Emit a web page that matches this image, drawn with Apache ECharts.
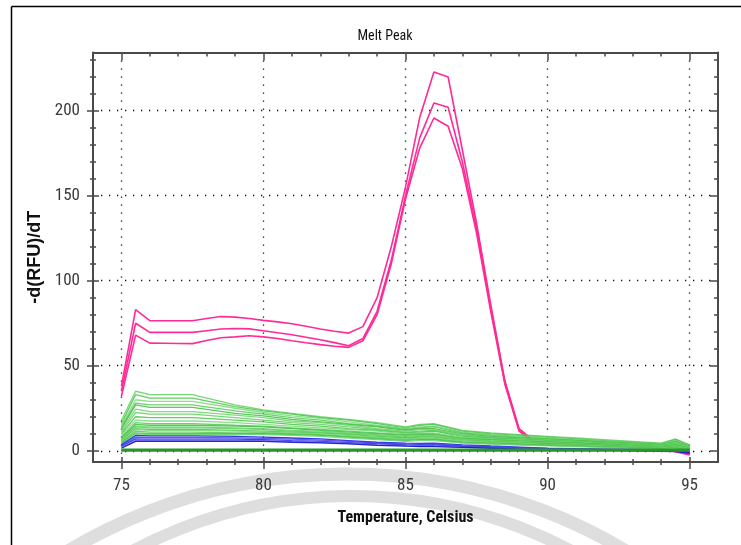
<!DOCTYPE html>
<html><head><meta charset="utf-8">
<script src="https://cdn.jsdelivr.net/npm/echarts@6/dist/echarts.min.js"></script>
<style>html,body{margin:0;padding:0;background:#fff}#c{width:741px;height:545px}</style>
</head><body><div id="c"></div>
<script>
// ---------- data ----------
const pinkTemps = [75,75.5,76,76.5,77,77.5,78,78.5,79,79.5,80,80.5,81,81.5,82,82.5,83,83.5,84,84.5,85,85.5,86,86.5,87,87.5,88,88.5,89,89.5,90,90.5,91,91.5,92,92.5,93,93.5,94,94.5,95];
const pink1 = [38,83,76.5,76.5,76.5,76.5,77.8,79,78.6,77.8,76.7,75.8,74.7,73.2,71.6,70.3,69.2,73,90,120,155,196,222.7,219.8,177,134,86,41,13,6,4.5,4.3,4.1,4,3.9,3.7,3.5,3,1.8,0,-2];
const pink2 = [35,75,69.6,69.6,69.6,69.6,70.6,71.6,71.9,71.7,70.6,69.4,68.2,66.8,65.3,63.6,61.8,66,82,112,150,184,204.5,202,170,131,84,40,12,5.5,4.2,4,3.9,3.8,3.6,3.5,3.3,2.8,1.4,-0.3,-2.2];
const pink3 = [32,68,63.3,63.2,63.1,63,64.8,66.5,67,67.6,67,66,64.7,63.5,62.4,61.5,60.8,64.7,80,110,148,178,195.7,190.8,166,128,82,39,11.5,5,3.9,3.7,3.6,3.5,3.4,3.2,3,2.6,1.1,-0.6,-2.5];

const greenTemps = [75,75.5,76,77.5,79,80,81,82,83,84,85,85.5,86,87,88,89,90,91,92,93,94,94.5,95];
const green1  = [18,35,33,33,27,24,22,20,18.5,16.5,14,15.5,16,12,10.5,9.5,8.5,7.5,6.5,5.5,4.5,7,3.5];
const green2  = [16,33,31,31,26,23.5,21.5,19.5,18,16,13.5,15,15.5,11.5,10,9,8,7,6,5,4.2,6.5,3.2];
const green3  = [15,30,29,29,25,22.5,20.5,19,17,15,13,14,14.5,11,9.5,8.5,7.5,6.5,5.5,4.8,4,6,3];
const green4  = [14,28,27,27,23.5,21.5,19.5,18,16,14.5,12.5,13.5,14,10.5,9,8,7,6.2,5.3,4.5,3.8,5.5,2.8];
const green5  = [13,27,25.5,25.5,22,20.5,18.5,17,15.5,14,12,13,13,10,8.5,7.5,6.8,6,5,4.3,3.6,5.2,2.6];
const green6  = [12,24.5,23,23,21,19.5,17.5,16.5,15,13,11.5,12.5,12.5,9.5,8,7.2,6.5,5.7,4.8,4,3.4,5,2.4];
const green7  = [11,22.5,21.5,21.5,19.5,18,16.5,15.5,14,12.5,11,11.5,12,9,7.8,7,6.2,5.5,4.6,3.8,3.2,4.6,2.2];
const green8  = [10,20,19.5,19.5,18,17,15.5,14.5,13,12,10.5,11,11.5,8.5,7.5,6.7,6,5.2,4.4,3.6,3,4.2,2];
const green9  = [9,18,17.5,17.5,16.5,15.5,14.5,13.5,12.5,11.5,10,10.5,10.5,8,7,6.4,5.7,5,4.2,3.4,2.8,4,1.8];
const green10 = [8,16.5,16,16,15,14.5,13.5,12.5,11.5,10.5,9.5,10,10,7.5,6.7,6,5.4,4.8,4,3.2,2.6,3.6,1.6];
const green11 = [7.5,15.5,15,15,14.5,14,13,12,11,10,9,9.5,9.5,7.2,6.4,5.7,5.1,4.5,3.8,3,2.4,3.4,1.4];
const green12 = [7,14.5,14,14,13.5,13,12,11.5,10.5,9.5,8.5,9,9,6.8,6,5.4,4.8,4.2,3.5,2.8,2.2,3,1.2];
const green13 = [6.5,14,13.5,13.5,13,12.5,11.5,11,10,9,8,8.5,8.5,6.5,5.7,5.1,4.5,3.9,3.2,2.6,2,2.8,1];
const green14 = [6,13,12.5,12.5,12,11.5,11,10.5,9.5,8.5,7.5,8,8,6,5.3,4.7,4.1,3.6,3,2.4,1.8,2.5,0.8];
const green15 = [5.5,12.5,12,12,11.5,11,10.5,10,9,8,7,7.5,7.5,5.6,5,4.4,3.8,3.3,2.7,2.2,1.6,2.2,0.5];
const green16 = [5,11.5,11,11,10.5,10.5,10,9.5,8.5,7.5,6.5,7,7,5.2,4.6,4,3.5,3,2.5,2,1.4,2,0.3];
const green17 = [4.5,10.5,10,10,10,10,9.5,9,8,7,6,6.5,6.5,4.8,4.2,3.7,3.2,2.7,2.2,1.8,1.2,1.7,0];
const green18 = [4,10,9.5,9.5,9.5,9.5,9,8.5,7.5,6.5,5.5,6,6,4.5,3.9,3.4,2.9,2.5,2,1.6,1,1.5,-0.3];

const blue1 = [3.5,9,8.8,8.8,8.5,8,7.5,7,6,5,4.5,4.3,4.5,3.5,2.8,2.2,1.5,1.2,1,0.8,0.4,0.2,-0.5];
const blue2 = [3,8,7.8,7.8,7.6,7.3,6.8,6.3,5.5,4.5,4,3.8,4,3,2.4,1.8,1.2,1,0.8,0.6,0.2,0,-0.8];
const blue3 = [2.5,7,6.8,6.8,6.8,6.6,6,5.5,4.8,4,3.5,3.3,3.4,2.6,2,1.5,1,0.8,0.6,0.4,0,-0.2,-1];
const blue4 = [2,6,6,6,6,6,5.5,5,4.3,3.5,3,2.8,2.8,2.2,1.7,1.2,0.8,0.6,0.4,0.2,-0.2,-0.4,-1.2];
const blue5 = [1.5,5.5,5.5,5.5,5.5,5.5,5,4.6,4,3.2,2.7,2.5,2.5,2,1.5,1,0.6,0.4,0.2,0,-0.3,-0.5,-1.3];

const baseTemps = [75,80,85,90,95];
const base1 = [0.6,0.6,0.6,0.6,0.6];
const base2 = [0.1,0.1,0.1,0.1,0.1];

const xMajorTicks = [75,80,85,90,95];
const xMinorTicks = [75,76,77,78,79,80,81,82,83,84,85,86,87,88,89,90,91,92,93,94,95];
const yMajorTicks = [0,50,100,150,200];
const yMinorTicks = [0,10,20,30,40,50,60,70,80,90,100,110,120,130,140,150,160,170,180,190,200,210,220,230];

const X_MIN = 74, X_MAX = 96, Y_MIN = -6.6, Y_MAX = 234.2;

// ---------- build ----------
const pair = (xs, ys) => xs.map((x, i) => [x, ys[i]]);
const greens = [green1,green2,green3,green4,green5,green6,green7,green8,green9,green10,green11,green12,green13,green14,green15,green16,green17,green18];
const greenColors = ['#5fd05f','#49c449','#7ad87a','#55c955','#3fbd3f','#6cd46c'];
const blues = [blue1,blue2,blue3,blue4,blue5];
const blueColors = ['#1f1fe8','#4a4af0','#2b2bd9','#6f6ff2','#1414c8'];
const pinks = [pink1,pink2,pink3];

const series = [];
pinks.forEach(p => series.push({type:'line', data:pair(pinkTemps, p), showSymbol:false, symbol:'none', silent:true,
  lineStyle:{color:'#ff2a96', width:1.6}, z:1}));
greens.forEach((g, i) => series.push({type:'line', data:pair(greenTemps, g), showSymbol:false, symbol:'none', silent:true,
  lineStyle:{color:greenColors[i % greenColors.length], width:1.3, opacity:0.85}, z:2}));
blues.forEach((b, i) => series.push({type:'line', data:pair(greenTemps, b), showSymbol:false, symbol:'none', silent:true,
  lineStyle:{color:blueColors[i], width:1.3, opacity:0.9}, z:3}));
[base1, base2].forEach(b => series.push({type:'line', data:pair(baseTemps, b), showSymbol:false, symbol:'none', silent:true,
  lineStyle:{color:'#2a962a', width:2.4}, z:4}));

const NARROW = "'Liberation Sans Narrow','Arial Narrow','Roboto Condensed',sans-serif";
const AX = '#4a4a4a';
const base = (extra) => Object.assign({type:'value', axisLine:{show:false, onZero:false}, axisLabel:{show:false}, splitLine:{show:false}}, extra);
const xr = {min:X_MIN, max:X_MAX};
const yr = {min:Y_MIN, max:Y_MAX};
const tick = (vals, len, inside) => ({show:true, customValues:vals, length:len, inside:inside, lineStyle:{color:AX, width:1.5}});

const xAxis = [
  base(Object.assign({}, xr, {position:'bottom',
    axisLine:{show:true, onZero:false, lineStyle:{color:AX, width:2}},
    axisTick:tick(xMajorTicks, 7, false),
    axisLabel:{show:true, customValues:xMajorTicks, margin:15, fontSize:17, fontFamily:NARROW, color:'#3a3a3a'},
    splitLine:{show:true, lineStyle:{color:'#111', width:1.3, type:[1.3,6.7]}},
    name:'Temperature, Celsius', nameLocation:'middle', nameGap:48,
    nameTextStyle:{fontSize:16, fontWeight:'bold', fontFamily:NARROW, color:'#111'}})),
  base(Object.assign({}, xr, {position:'bottom', axisTick:tick(xMajorTicks, 5, true)})),
  base(Object.assign({}, xr, {position:'bottom', axisTick:tick(xMinorTicks, 3, false)})),
  base(Object.assign({}, xr, {position:'bottom', axisTick:tick(xMinorTicks, 3, true)})),
  base(Object.assign({}, xr, {position:'top', axisLine:{show:true, onZero:false, lineStyle:{color:AX, width:2}}, axisTick:tick(xMajorTicks, 8, true)})),
  base(Object.assign({}, xr, {position:'top', axisTick:tick(xMinorTicks, 4, true)}))
];
const yAxis = [
  base(Object.assign({}, yr, {position:'left',
    axisLine:{show:true, onZero:false, lineStyle:{color:AX, width:2}},
    axisTick:tick(yMajorTicks, 6, false),
    axisLabel:{show:true, customValues:yMajorTicks, margin:13, fontSize:17, fontFamily:NARROW, color:'#3a3a3a'},
    splitLine:{show:true, lineStyle:{color:'#111', width:1.3, type:[1.3,6.7]}},
    name:'-d(RFU)/dT', nameLocation:'middle', nameGap:41, nameRotate:90,
    nameTextStyle:{fontSize:18, fontWeight:'bold', fontFamily:"'Liberation Sans',Arial,sans-serif", color:'#111'}})),
  base(Object.assign({}, yr, {position:'left', axisTick:tick(yMajorTicks, 6, true)})),
  base(Object.assign({}, yr, {position:'left', axisTick:tick(yMinorTicks, 3, false)})),
  base(Object.assign({}, yr, {position:'left', axisTick:tick(yMinorTicks, 3, true)})),
  base(Object.assign({}, yr, {position:'right', axisLine:{show:true, onZero:false, lineStyle:{color:AX, width:2}}, axisTick:tick(yMajorTicks, 8, true)})),
  base(Object.assign({}, yr, {position:'right', axisTick:tick(yMinorTicks, 4, true)}))
];

const chart = echarts.init(document.getElementById('c'), null, {renderer:'canvas'});
chart.setOption({
  animation:false,
  backgroundColor:'#fff',
  title:{text:'Melt Peak', left:380, top:24, textAlign:'center',
    textStyle:{fontSize:14, fontWeight:'normal', fontFamily:NARROW, color:'#111'}},
  grid:{left:93, right:23, top:52.5, bottom:83, containLabel:false},
  xAxis: xAxis,
  yAxis: yAxis,
  graphic:[
    {type:'arc', z:-10, silent:true, shape:{cx:347, cy:1018, r:544, startAngle:-2.3, endAngle:-0.85}, style:{stroke:'#dedede', lineWidth:13, fill:null}},
    {type:'arc', z:-10, silent:true, shape:{cx:352, cy:962, r:466, startAngle:-2.3, endAngle:-0.85}, style:{stroke:'#dedede', lineWidth:12, fill:null}},
    {type:'line', z:10, silent:true, shape:{x1:11.5, y1:6.5, x2:741, y2:6.5}, style:{stroke:'#000', lineWidth:1.5}},
    {type:'line', z:10, silent:true, shape:{x1:11.5, y1:6.5, x2:11.5, y2:545}, style:{stroke:'#000', lineWidth:1.5}}
  ],
  series: series
});
</script></body></html>
